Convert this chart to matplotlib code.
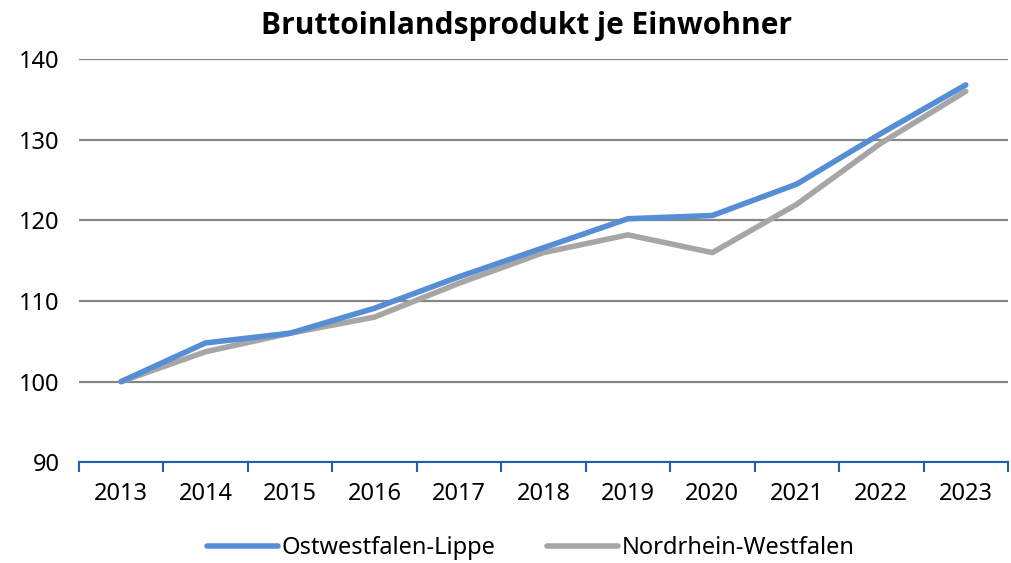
import matplotlib
matplotlib.use("Agg")
import matplotlib.pyplot as plt
from matplotlib.ticker import FixedLocator

# Index 2013 = 100
years = ["2013", "2014", "2015", "2016", "2017", "2018", "2019", "2020", "2021", "2022", "2023"]
owl = [100, 104.8, 106.0, 109.1, 113.0, 116.6, 120.2, 120.6, 124.5, 130.8, 136.8]
nrw = [100, 103.7, 106.0, 108.0, 112.2, 116.0, 118.2, 116.0, 122.0, 129.6, 136.0]

plt.rcParams['font.family'] = ['Noto Sans', 'DejaVu Sans']

fig = plt.figure(figsize=(10.11, 5.63), dpi=100)
ax = fig.add_axes([0.078, 0.179, 0.919, 0.716])

x = list(range(len(years)))
ax.plot(x, owl, color='#558ed5', lw=4, solid_capstyle='round', label='Ostwestfalen-Lippe', zorder=3)
ax.plot(x, nrw, color='#a6a6a6', lw=4, solid_capstyle='round', label='Nordrhein-Westfalen', zorder=2)

ax.set_xlim(-0.5, len(years) - 0.5)
ax.set_ylim(90, 140)
ax.set_yticks([90, 100, 110, 120, 130, 140])
ax.yaxis.grid(True, color='#868686', lw=1.6)
ax.set_axisbelow(True)
ax.tick_params(axis='y', length=0, labelsize=17, pad=14)

# category labels centered, ticks on category boundaries
ax.set_xticks(x)
ax.set_xticklabels(years, fontsize=17)
ax.tick_params(axis='x', which='major', length=0, pad=14)
ax.xaxis.set_minor_locator(FixedLocator([i - 0.5 for i in range(len(years) + 1)]))
ax.tick_params(axis='x', which='minor', length=7, width=1.5, color='#1f5fad', direction='out')

for s in ['top', 'right', 'left']:
    ax.spines[s].set_visible(False)
ax.spines['bottom'].set_color('#1f5fad')
ax.spines['bottom'].set_linewidth(1.5)

fig.text(0.521, 0.953, 'Bruttoinlandsprodukt je Einwohner', ha='center', va='center',
         fontsize=21.5, fontweight='bold', family=['Open Sans', 'DejaVu Sans'])

fig.legend(loc='center', bbox_to_anchor=(0.525, 0.027), ncol=2, frameon=False,
           fontsize=17, handlelength=3.0, handletextpad=0.15, columnspacing=2.2)

fig.savefig('out.png', dpi=100)
